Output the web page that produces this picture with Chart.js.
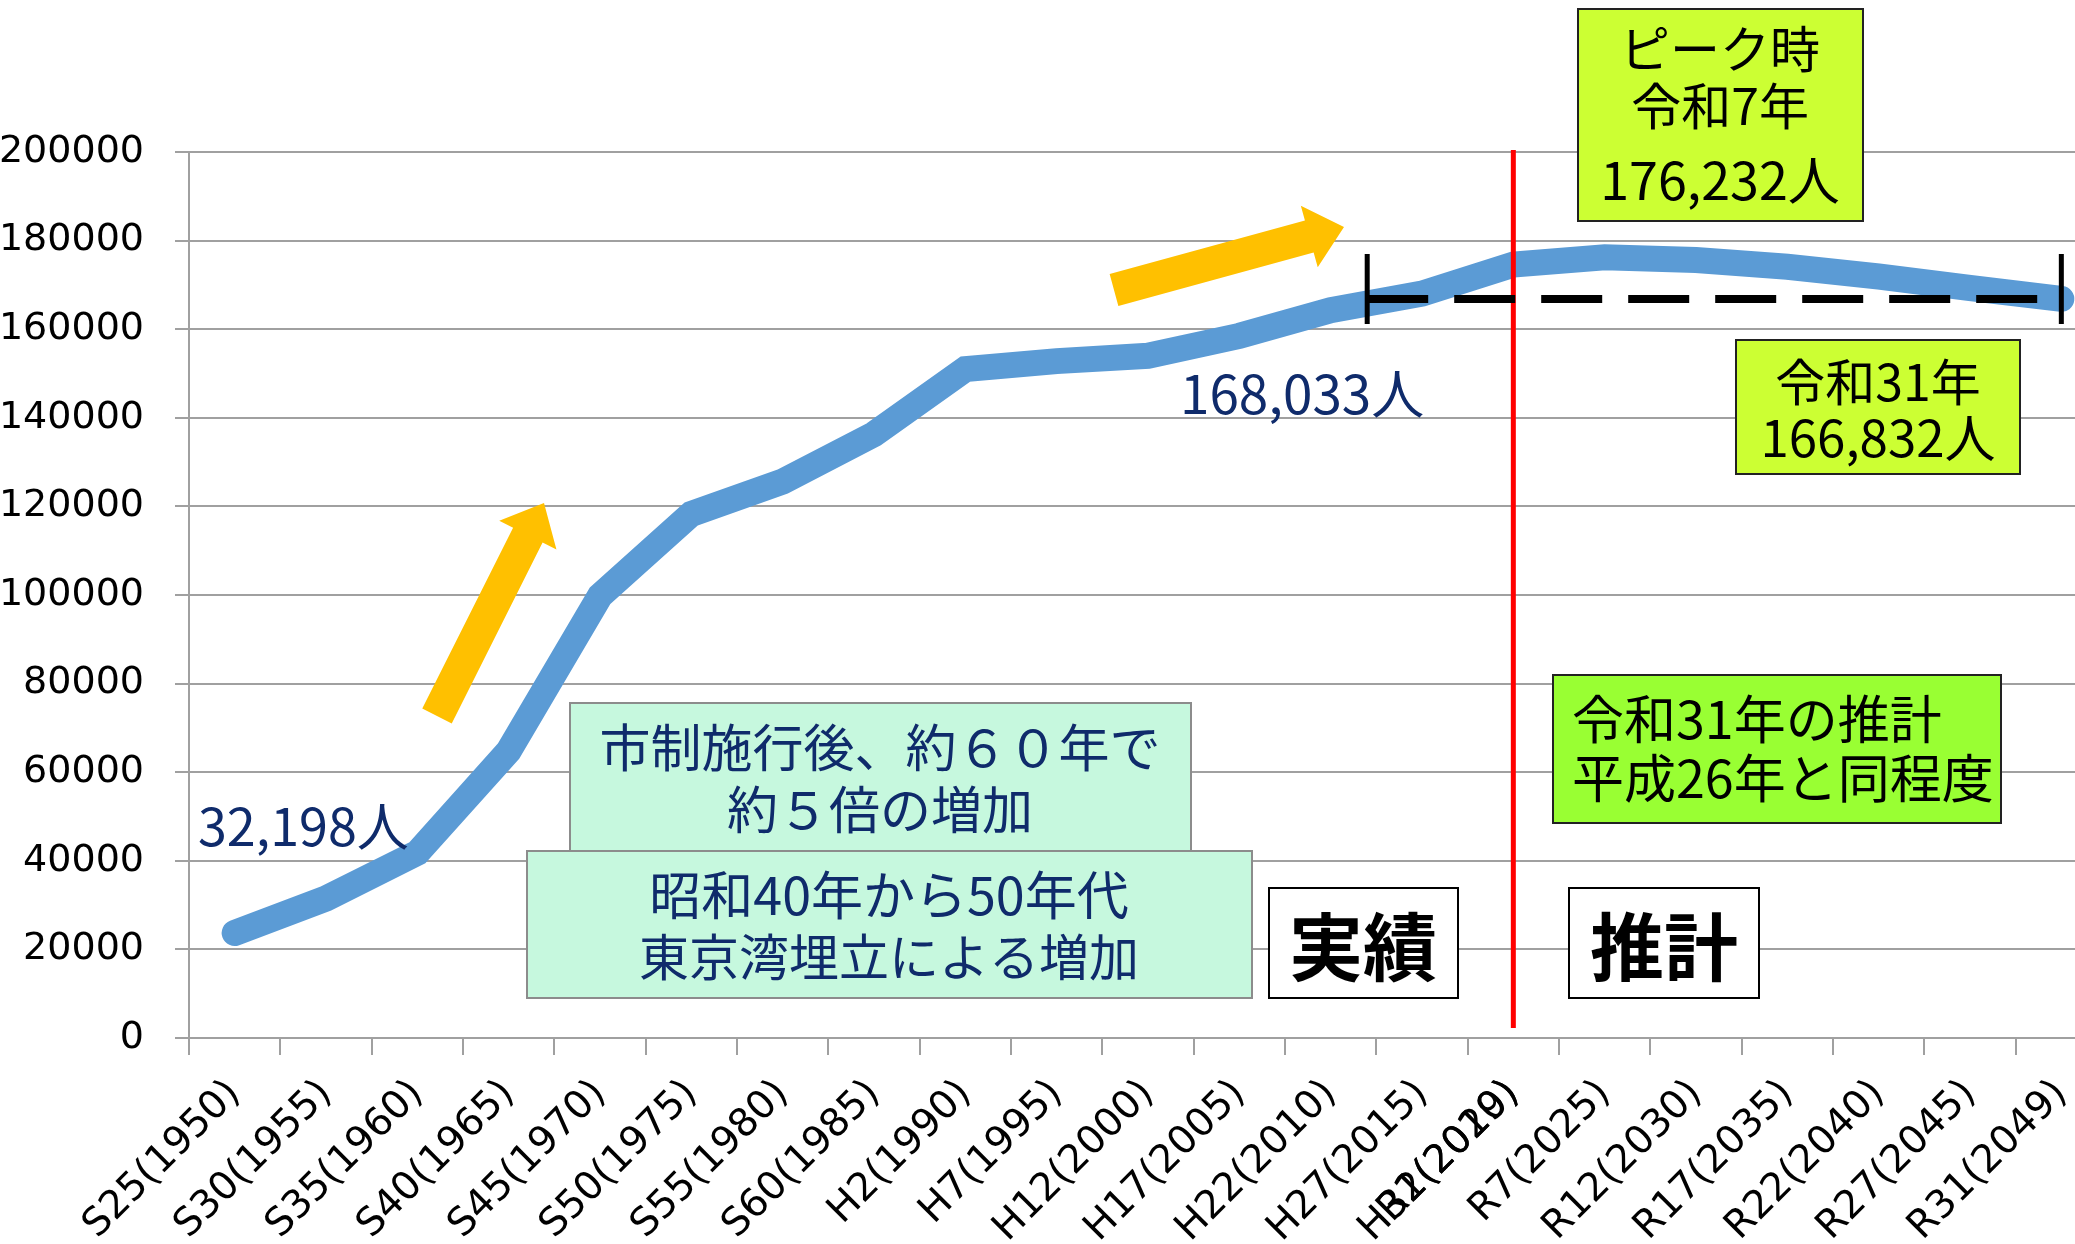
<!DOCTYPE html>
<html>
<head>
<meta charset="utf-8">
<script src="https://cdn.jsdelivr.net/npm/chart.js@4.4.1/dist/chart.umd.min.js"></script>
<style>
html, body { margin: 0; padding: 0; background: #fff; overflow: hidden; }
canvas { display: block; }
</style>
</head>
<body>
<canvas id="popChart" width="2120" height="1244"></canvas>
<script>
// categories (the 2019 slot carries two overlapping labels in the original)
const periods = ['S25(1950)', 'S30(1955)', 'S35(1960)', 'S40(1965)', 'S45(1970)', 'S50(1975)',
    'S55(1980)', 'S60(1985)', 'H2(1990)', 'H7(1995)', 'H12(2000)', 'H17(2005)', 'H22(2010)',
    'H27(2015)', 'H31(2019)', 'R7(2025)', 'R12(2030)', 'R17(2035)', 'R22(2040)', 'R27(2045)', 'R31(2049)'];
const overlapLabel = 'R2(2020)';
const overlapIndex = 14;

// population (actual up to 2019, projection after)
const population = [23700, 31500, 41800, 64800, 99800, 118300, 125600, 136300, 151000, 152800,
    154000, 158500, 164300, 168033, 174600, 176232, 175600, 174100, 171900, 169300, 166832];

const yTicks = [0, 20000, 40000, 60000, 80000, 100000, 120000, 140000, 160000, 180000, 200000];

const splitIndex = 14;        // actual / projection border
const benchmarkFrom = 12.4;   // start of the dashed "same level" line
const NAVY = '#0F2B6B';
const JP = '"Noto Sans CJK JP", "Noto Sans CJK SC", sans-serif';

function box(ctx, x1, y1, x2, y2, fill, stroke) {
    ctx.save();
    ctx.fillStyle = fill;
    ctx.fillRect(x1, y1, x2 - x1, y2 - y1);
    ctx.strokeStyle = stroke;
    ctx.lineWidth = 2;
    ctx.strokeRect(x1, y1, x2 - x1, y2 - y1);
    ctx.restore();
}

function text(ctx, str, x, y, size, color, align, weight) {
    ctx.save();
    ctx.font = (weight || 400) + ' ' + size + 'px ' + JP;
    ctx.fillStyle = color;
    ctx.textAlign = align || 'center';
    ctx.textBaseline = 'middle';
    ctx.fillText(str, x, y);
    ctx.restore();
}

function arrow(ctx, x1, y1, x2, y2) {
    const len = Math.hypot(x2 - x1, y2 - y1);
    const ux = (x2 - x1) / len, uy = (y2 - y1) / len;
    const nx = -uy, ny = ux;
    const sw = 16.5, hw = 32, hl = 36;
    const bx = x2 - ux * hl, by = y2 - uy * hl;
    ctx.save();
    ctx.fillStyle = '#FFC000';
    ctx.beginPath();
    ctx.moveTo(x1 + nx * sw, y1 + ny * sw);
    ctx.lineTo(bx + nx * sw, by + ny * sw);
    ctx.lineTo(bx + nx * hw, by + ny * hw);
    ctx.lineTo(x2, y2);
    ctx.lineTo(bx - nx * hw, by - ny * hw);
    ctx.lineTo(bx - nx * sw, by - ny * sw);
    ctx.lineTo(x1 - nx * sw, y1 - ny * sw);
    ctx.closePath();
    ctx.fill();
    ctx.restore();
}

const overlay = {
    id: 'overlay',
    afterDatasetsDraw(chart) {
        const ctx = chart.ctx;
        const xs = chart.scales.x, ys = chart.scales.y;
        const area = chart.chartArea;

        arrow(ctx, 437, 716, 544, 503);
        arrow(ctx, 1114, 290, 1344, 227);

        // red border between actual and projection
        const rx = xs.getPixelForValue(splitIndex);
        ctx.save();
        ctx.strokeStyle = '#FF0000';
        ctx.lineWidth = 5;
        ctx.beginPath();
        ctx.moveTo(rx, area.top - 2);
        ctx.lineTo(rx, area.bottom - 10);
        ctx.stroke();
        ctx.restore();

        // dashed line at the 2049 level
        const dy = ys.getPixelForValue(population[population.length - 1]);
        const dx1 = xs.getPixelForValue(benchmarkFrom);
        const dx2 = xs.getPixelForValue(population.length - 1);
        ctx.save();
        ctx.strokeStyle = '#000';
        ctx.lineWidth = 8;
        ctx.setLineDash([61, 26]);
        ctx.beginPath();
        ctx.moveTo(dx1, dy);
        ctx.lineTo(dx2, dy);
        ctx.stroke();
        ctx.setLineDash([]);
        ctx.lineWidth = 5;
        ctx.beginPath();
        ctx.moveTo(dx1, dy - 45); ctx.lineTo(dx1, dy + 25);
        ctx.moveTo(dx2, dy - 45); ctx.lineTo(dx2, dy + 25);
        ctx.stroke();
        ctx.restore();

        // callouts
        box(ctx, 1578, 9, 1863, 221, '#CCFF33', '#222');
        text(ctx, 'ピーク時', 1720, 49, 50, '#000');
        text(ctx, '令和7年', 1720, 106, 50, '#000');
        text(ctx, '176,232人', 1720, 180, 52, '#000');

        box(ctx, 1736, 340, 2020, 474, '#CCFF33', '#222');
        text(ctx, '令和31年', 1878, 382, 50, '#000');
        text(ctx, '166,832人', 1878, 438, 51, '#000');

        text(ctx, '168,033人', 1180, 394, 53, NAVY, 'left');
        text(ctx, '32,198人', 198, 826, 52, NAVY, 'left');

        box(ctx, 570, 703, 1191, 851, '#C6F8DE', '#8C8C8C');
        text(ctx, '市制施行後、約６０年で', 880, 748, 51, NAVY);
        text(ctx, '約５倍の増加', 880, 810, 51, NAVY);

        box(ctx, 527, 851, 1252, 998, '#C6F8DE', '#8C8C8C');
        text(ctx, '昭和40年から50年代', 889, 895, 52, NAVY);
        text(ctx, '東京湾埋立による増加', 889, 957, 50, NAVY);

        box(ctx, 1269, 888, 1458, 998, '#FFFFFF', '#000');
        text(ctx, '実績', 1363, 947, 74, '#000', 'center', 700);
        box(ctx, 1569, 888, 1759, 998, '#FFFFFF', '#000');
        text(ctx, '推計', 1664, 947, 74, '#000', 'center', 700);

        box(ctx, 1553, 675, 2001, 823, '#99FF33', '#222');
        text(ctx, '令和31年の推計', 1572, 719, 52, '#000', 'left');
        text(ctx, '平成26年と同程度', 1572, 778, 52, '#000', 'left');
    },
    afterDraw(chart) {
        const xs = chart.scales.x;
        if (!xs.getLabelItems) return;
        const it = xs.getLabelItems()[overlapIndex];
        if (!it) return;
        const ctx = chart.ctx;
        ctx.save();
        ctx.translate(it.options.translation[0], it.options.translation[1]);
        ctx.rotate(it.options.rotation);
        ctx.font = it.font.string;
        ctx.fillStyle = '#000';
        ctx.textAlign = it.options.textAlign;
        ctx.textBaseline = it.options.textBaseline;
        ctx.fillText(overlapLabel, 0, it.textOffset);
        ctx.restore();
    }
};

const chart = new Chart(document.getElementById('popChart').getContext('2d'), {
    type: 'line',
    data: {
        labels: periods,
        datasets: [{
            label: '人口',
            data: population,
            borderColor: '#5B9BD5',
            borderWidth: 26,
            borderCapStyle: 'round',
            pointRadius: 0,
            tension: 0,
            fill: false
        }]
    },
    options: {
        responsive: false,
        animation: false,
        devicePixelRatio: 1,
        layout: { padding: { top: 152, right: 13, bottom: 0, left: 0 } },
        plugins: {
            legend: { display: false },
            tooltip: { enabled: false }
        },
        scales: {
            x: {
                offset: true,
                afterFit: s => { s.height = 206; },
                grid: {
                    offset: true,
                    drawOnChartArea: false,
                    drawTicks: true,
                    tickLength: 17,
                    color: '#A0A0A0',
                    lineWidth: 2
                },
                border: { color: '#A0A0A0', width: 2 },
                ticks: {
                    autoSkip: false,
                    maxRotation: 45,
                    minRotation: 45,
                    padding: 16,
                    color: '#000',
                    font: { family: '"DejaVu Sans"', size: 39 }
                }
            },
            y: {
                min: 0,
                max: 200000,
                afterFit: s => { s.width = 189; },
                afterBuildTicks: s => { s.ticks = yTicks.map(v => ({ value: v })); },
                grid: {
                    color: '#A0A0A0',
                    lineWidth: 2,
                    tickLength: 14
                },
                border: { color: '#A0A0A0', width: 2 },
                ticks: {
                    padding: 31,
                    color: '#000',
                    font: { family: '"DejaVu Sans"', size: 38 },
                    callback: v => String(v)
                }
            }
        }
    },
    plugins: [overlay]
});
</script>
</body>
</html>
